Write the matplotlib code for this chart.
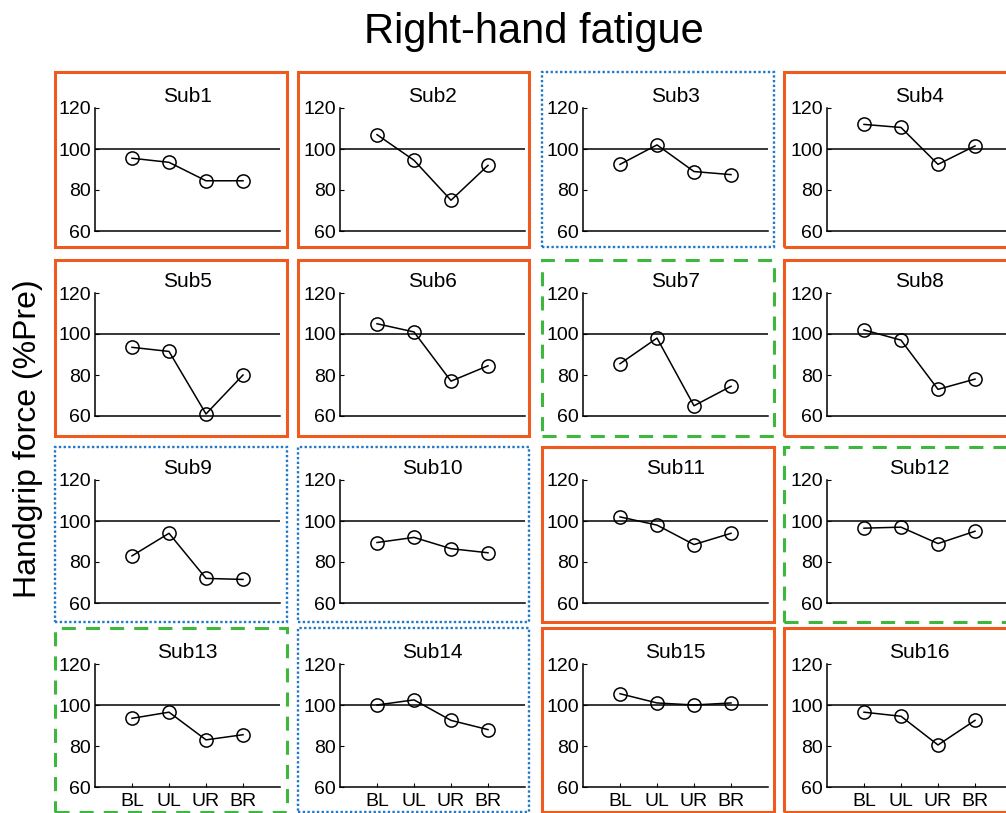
import numpy as np
import matplotlib
matplotlib.use("Agg")
import matplotlib.pyplot as plt
from matplotlib.patches import Rectangle

plt.rcParams['font.family'] = ['Liberation Sans', 'DejaVu Sans']

# データ (%Pre)
conditions = ["BL", "UL", "UR", "BR"]
subjects = ["Sub%d" % i for i in range(1, 17)]
sub1 = [95.5, 93.5, 84.5, 84.5]
sub2 = [107, 94.5, 75, 92]
sub3 = [92.5, 102, 89, 87.5]
sub4 = [112, 110.5, 92.5, 101.5]
sub5 = [93.5, 91.5, 61, 80]
sub6 = [105, 101, 77, 84.5]
sub7 = [85.5, 98, 65, 74.5]
sub8 = [102, 97, 73, 78]
sub9 = [83, 94, 72, 71.5]
sub10 = [89.5, 92, 86.5, 84.5]
sub11 = [102, 98, 88.5, 94]
sub12 = [96.5, 97, 89, 95]
sub13 = [93.5, 96.5, 83, 85.5]
sub14 = [100, 102.5, 92.5, 88]
sub15 = [105.5, 101, 100, 101]
sub16 = [96.5, 94.5, 80.5, 92.5]
values = [sub1, sub2, sub3, sub4, sub5, sub6, sub7, sub8,
          sub9, sub10, sub11, sub12, sub13, sub14, sub15, sub16]
# 枠の種類: o=solid orange, b=dotted blue, g=dashed green
frame_kind = ["o", "o", "b", "o",
              "o", "o", "g", "o",
              "b", "b", "o", "g",
              "g", "b", "o", "o"]

W, H = 1006, 813
fig = plt.figure(figsize=(W / 100, H / 100), dpi=100)

ax_left = [95, 340, 583, 827]
ax_top = [108, 293, 480, 664]
ax_w, ax_h = 185, 123
fr_x = [(55, 287), (298, 529), (542, 774), (784, 1016)]
fr_y = [(72, 247), (260, 436), (447, 622), (628, 812)]

styles = {
    "o": dict(edgecolor="#EE5A1F", linewidth=2.2, linestyle="-"),
    "b": dict(edgecolor="#1F78C8", linewidth=1.7, linestyle=(0, (1, 1))),
    "g": dict(edgecolor="#3DB83D", linewidth=2.2, linestyle=(0, (4.6, 3.3))),
}

x = np.arange(1, 5)
for n in range(16):
    r, c = divmod(n, 4)
    ax = fig.add_axes([ax_left[c] / W, 1 - (ax_top[r] + ax_h) / H, ax_w / W, ax_h / H])
    ax.axhline(100, color="black", linewidth=1.1)
    ax.plot(x, values[n], color="black", linewidth=1.1, marker="o",
            markersize=9.5, markerfacecolor="none", markeredgewidth=1.1,
            clip_on=False)
    ax.set_xlim(0, 5)
    ax.set_ylim(60, 120)
    ax.set_yticks([60, 80, 100, 120])
    ax.spines["top"].set_visible(False)
    ax.spines["right"].set_visible(False)
    ax.spines["left"].set_linewidth(1.1)
    ax.spines["bottom"].set_linewidth(1.1)
    ax.tick_params(axis="y", direction="in", length=3, labelsize=14, pad=3)
    if r == 3:
        ax.set_xticks(x)
        ax.set_xticklabels(conditions)
        ax.tick_params(axis="x", direction="in", length=3, labelsize=14, pad=4)
    else:
        ax.set_xticks([])
    ax.set_title(subjects[n], fontsize=15, pad=4)

    # 枠
    x0, x1 = fr_x[c]
    y0, y1 = fr_y[r]
    rect = Rectangle((x0 / 100, (H - y1) / 100), (x1 - x0) / 100, (y1 - y0) / 100,
                     transform=fig.dpi_scale_trans, facecolor="none",
                     **styles[frame_kind[n]])
    fig.add_artist(rect)

fig.text(534 / W, 1 - 32 / H, "Right-hand fatigue", fontsize=30, ha="center", va="center")
fig.text(28 / W, 1 - 439 / H, "Handgrip force (%Pre)", fontsize=23, rotation=90,
         ha="center", va="center")

plt.savefig("out.png", dpi=100)
